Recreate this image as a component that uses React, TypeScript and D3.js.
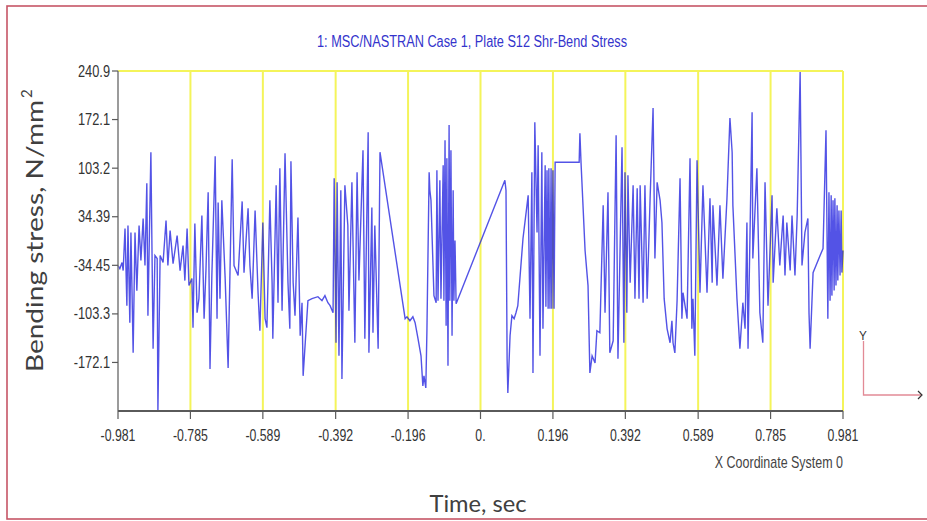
import React from 'react';
import * as d3 from 'd3';

const chartTitle = '1: MSC/NASTRAN Case 1, Plate S12 Shr-Bend Stress';
const xAxisTitle = 'Time, sec';
const yAxisTitle = 'Bending stress, N/mm';
const yAxisTitleSup = '2';
const coordLabel = 'X Coordinate System 0';

const xTickValues = [-0.981, -0.785, -0.589, -0.392, -0.196, 0, 0.196, 0.392, 0.589, 0.785, 0.981];
const xTickLabels = ['-0.981', '-0.785', '-0.589', '-0.392', '-0.196', '0.', '0.196', '0.392', '0.589', '0.785', '0.981'];
const yTickValues = [240.9, 172.1, 103.2, 34.39, -34.45, -103.3, -172.1];
const yTickLabels = ['240.9', '172.1', '103.2', '34.39', '-34.45', '-103.3', '-172.1'];
const xDomain = [-0.981, 0.981];
const yDomain = [-240.9, 240.9];

// [time (s), bending stress (N/mm^2)]
const samplesEarly: [number, number][] = [
  [-0.981,-34.8],[-0.976,-39.1],[-0.970,-30.5],[-0.967,-41.9],[-0.962,17.8],[-0.957,-91.7],[-0.954,22.0],[-0.949,-115.8],[-0.946,12.1],[-0.940,-158.5],
  [-0.935,12.1],[-0.930,-70.3],[-0.924,22.0],[-0.919,-27.7],[-0.913,32.0],[-0.908,-34.8],[-0.903,81.7],[-0.900,-105.9],[-0.892,125.8],[-0.886,-152.8],
  [-0.881,-20.6],[-0.875,-24.9],[-0.873,-240.9],[-0.867,-20.6],[-0.859,-30.5],[-0.851,29.1],[-0.846,-34.8],[-0.840,14.9],[-0.832,-32.0],[-0.821,7.8],
  [-0.813,-41.9],[-0.805,-6.4],[-0.800,-56.1],[-0.794,17.8],[-0.789,-63.2],[-0.781,-53.3],[-0.778,-122.9],[-0.773,24.9],[-0.767,-101.6],[-0.762,-81.7],
  [-0.754,36.2],[-0.748,-110.1],[-0.743,-41.9],[-0.737,68.9],[-0.732,-181.2],[-0.727,-49.0],[-0.718,120.1],[-0.713,-110.1],[-0.710,54.7],[-0.705,-81.7],
  [-0.700,57.6],[-0.691,-53.3],[-0.683,-179.8],[-0.672,115.8],[-0.667,-34.8],[-0.656,-49.0],[-0.645,56.1],[-0.640,-44.8],[-0.629,46.2],[-0.624,-34.8],
  [-0.618,-81.7],[-0.610,43.3],[-0.602,-73.2],[-0.597,-127.2],[-0.589,26.3],[-0.583,-110.1],[-0.578,-122.9],[-0.570,57.6],[-0.564,-59.0],[-0.562,-138.6],
  [-0.553,78.9],[-0.548,-87.4],[-0.543,103.0],[-0.537,-98.8],[-0.529,124.4],[-0.521,-59.0],[-0.516,-124.4],[-0.513,113.0],[-0.507,-59.0],[-0.502,-105.9],
  [-0.494,33.4],[-0.488,-134.3],[-0.483,-87.4],[-0.480,-191.1],
];

const samplesPlateau: [number, number][] = [
  [-0.467,-84.6],[-0.456,-81.7],[-0.440,-78.9],[-0.429,-84.6],[-0.421,-77.4],[-0.413,-87.4],[-0.407,-91.7],
  [-0.399,-101.6],[-0.396,88.8],[-0.391,-144.2],[-0.388,83.2],[-0.383,-162.7],[-0.378,71.8],[-0.375,-195.4],[-0.367,78.9],
  [-0.359,22.0],[-0.356,-98.8],[-0.348,83.2],[-0.340,-144.2],[-0.334,97.3],[-0.329,-56.1],
];

const samplesMiddle: [number, number][] = [
  [-0.318,128.6],[-0.313,-138.6],[-0.304,154.2],[-0.302,-158.5],[-0.294,47.6],[-0.291,-130.0],[-0.286,22.0],[-0.277,-152.8],[-0.272,125.8],
  [-0.204,-110.1],[-0.199,-107.3],[-0.191,-113.0],[-0.183,-107.3],[-0.177,-115.8],[-0.169,-138.6],[-0.161,-162.7],[-0.156,-205.4],[-0.153,-191.1],
  [-0.148,-208.2],[-0.145,-127.2],[-0.139,97.3],[-0.137,71.8],[-0.134,57.6],[-0.126,-77.4],[-0.120,-87.4],[-0.118,100.2],[-0.115,-84.6],
  [-0.110,86.0],[-0.107,-81.7],[-0.101,107.3],[-0.099,-84.6],[-0.096,142.8],[-0.093,-120.1],[-0.091,117.3],[-0.088,-176.9],[-0.085,164.2],
  [-0.083,-84.6],[-0.080,128.6],[-0.077,-134.3],[-0.074,71.8],[-0.072,-84.6],[-0.069,0.7],[-0.066,-88.8],
  [0.066,86.0],[0.069,71.8],[0.072,-167.0],[0.074,-215.3],[0.080,-134.3],[0.085,-105.9],[0.091,-110.1],[0.096,-101.6],[0.101,-91.7],
  [0.115,3.6],[0.129,64.7],[0.134,-110.1],[0.139,97.3],[0.142,-186.9],[0.147,168.4],[0.153,12.1],[0.156,135.7],[0.161,-162.7],
  [0.166,125.8],[0.169,-124.4],[0.175,107.3],[0.177,-93.1],[0.180,100.2],[0.183,-95.9],[0.185,103.0],[0.188,-95.9],[0.191,103.0],
  [0.193,-95.9],[0.196,100.2],[0.199,-95.9],[0.202,111.6],
  [0.267,111.6],[0.269,152.8],[0.272,111.6],[0.283,-13.5],[0.291,-63.2],[0.296,-186.9],[0.302,-162.7],[0.310,-172.7],[0.315,-127.2],[0.323,-130.0],
];

const samplesLate: [number, number][] = [
  [0.332,50.5],[0.337,-101.6],[0.345,68.9],[0.350,-158.5],[0.359,-141.4],[0.367,149.9],[0.372,-167.0],[0.383,132.9],[0.388,-144.2],[0.391,97.3],
  [0.396,-101.6],[0.399,93.1],[0.405,-59.0],[0.413,78.9],[0.418,-81.7],[0.424,74.6],[0.429,-81.7],[0.432,78.9],[0.440,-87.4],[0.445,78.9],
  [0.451,-81.7],[0.459,60.4],[0.467,188.3],[0.472,-24.9],[0.478,83.2],[0.486,57.6],[0.491,26.3],[0.497,-81.7],[0.505,-124.4],[0.513,-144.2],
  [0.518,-113.0],[0.521,-144.2],[0.526,-158.5],[0.532,-84.6],[0.540,88.8],[0.545,-110.1],[0.548,-73.2],[0.559,-110.1],[0.567,117.3],[0.572,-124.4],
  [0.575,-81.7],[0.580,-162.7],[0.586,114.4],[0.594,-73.2],[0.602,78.9],[0.613,-73.2],[0.621,60.4],[0.627,-59.0],[0.629,50.5],[0.640,-63.2],
  [0.648,50.5],[0.656,-53.3],[0.667,60.4],[0.675,174.1],[0.681,125.8],[0.683,50.5],[0.694,-81.7],[0.702,-152.8],[0.710,-87.4],[0.716,-124.4],
  [0.721,26.3],[0.724,-152.8],[0.735,182.6],[0.737,-24.9],[0.748,103.0],[0.756,-101.6],[0.764,-144.2],[0.770,83.2],[0.778,-91.7],[0.789,64.7],
  [0.792,-59.0],[0.802,46.2],[0.810,-34.8],[0.819,36.2],[0.824,-49.0],[0.829,26.3],[0.838,-41.9],[0.843,36.2],[0.851,-49.0],[0.857,36.2],
  [0.865,239.5],[0.870,-34.8],[0.878,12.1],[0.886,32.0],[0.889,-101.6],[0.892,-152.8],[0.900,-44.8],[0.919,-20.6],[0.927,-10.7],[0.935,157.0],
  [0.940,-110.1],[0.943,68.9],[0.946,-84.6],[0.949,64.7],[0.951,-77.4],[0.954,57.6],[0.957,-70.3],[0.959,60.4],[0.962,-63.2],[0.965,50.5],
  [0.967,-56.1],[0.970,43.3],[0.973,-49.0],[0.976,43.3],[0.978,-44.8],[0.981,-13.5],
];

const SANS = "'Liberation Sans',Arial,sans-serif";
const HUMAN = "Lato,'Open Sans','Noto Sans',sans-serif";

function NarrowText(props: { x: number; y: number; anchor: string; size: number; fill: string; sx?: number; children: React.ReactNode }) {
  const sx = props.sx ?? 0.78;
  return (
    <g transform={`translate(${props.x},${props.y}) scale(${sx},1)`}>
      <text x={0} y={0} textAnchor={props.anchor as any} fontFamily={SANS} fontSize={props.size} fill={props.fill}>{props.children}</text>
    </g>
  );
}

export default function App() {
  const W = 927;
  const H = 521;
  const plot = { left: 118, right: 843, top: 71, bottom: 411 };
  const x = d3.scaleLinear().domain(xDomain).range([plot.left, plot.right]);
  const y = d3.scaleLinear().domain(yDomain).range([plot.bottom, plot.top]);
  const samples = [...samplesEarly, ...samplesPlateau, ...samplesMiddle, ...samplesLate];
  const line = d3.line<[number, number]>().x((d) => x(d[0])).y((d) => y(d[1]));
  const path = line(samples) || '';

  const yellow = '#f4f45a';
  const axisGrey = '#5a5a5a';

  return (
    <svg width={W} height={H} style={{ position: 'absolute', left: 0, top: 0, display: 'block', background: '#fff' }}>
      <rect x={7} y={6} width={940} height={513} fill="#fff" stroke="#c65566" strokeWidth={1.6} />

      <text x={472} y={47} textAnchor="middle" fontFamily={SANS} fontSize={16} fill="#3434cc"
        textLength={310} lengthAdjust="spacingAndGlyphs">{chartTitle}</text>

      {/* yellow frame and grid */}
      <line x1={plot.left} x2={plot.right} y1={plot.top} y2={plot.top} stroke={yellow} strokeWidth={2} />
      {xTickValues.slice(1).map((v, i) => (
        <line key={'g' + i} x1={x(v)} x2={x(v)} y1={plot.top} y2={plot.bottom} stroke={yellow} strokeWidth={2} />
      ))}

      {/* data */}
      <path d={path} fill="none" stroke="#1010dd" strokeOpacity={0.72} strokeWidth={1.4} />

      {/* axes */}
      <line x1={plot.left} x2={plot.left} y1={plot.top} y2={plot.bottom} stroke="#7a7a7a" strokeWidth={1.5} />
      <line x1={plot.left} x2={plot.right} y1={plot.bottom} y2={plot.bottom} stroke={axisGrey} strokeWidth={2} />
      {yTickValues.map((v, i) => (
        <g key={'yt' + i}>
          <line x1={plot.left - 6} x2={plot.left} y1={y(v)} y2={y(v)} stroke={axisGrey} strokeWidth={1.2} />
          <NarrowText x={plot.left - 8} y={y(v) + 5.5} anchor="end" size={16} fill="#333" sx={0.8}>{yTickLabels[i]}</NarrowText>
        </g>
      ))}
      {xTickValues.map((v, i) => (
        <g key={'xt' + i}>
          <line x1={x(v)} x2={x(v)} y1={plot.bottom} y2={plot.bottom + 8} stroke={axisGrey} strokeWidth={1.2} />
          <NarrowText x={x(v)} y={441} anchor="middle" size={16} fill="#333" sx={0.77}>{xTickLabels[i]}</NarrowText>
        </g>
      ))}
      <NarrowText x={843} y={468} anchor="end" size={16} fill="#444" sx={0.78}>{coordLabel}</NarrowText>

      {/* coordinate system glyph */}
      <polyline points="863.5,341 863.5,395 921,395" fill="none" stroke="#e28a96" strokeWidth={1.3} />
      <NarrowText x={863} y={340} anchor="middle" size={13} fill="#333" sx={0.9}>Y</NarrowText>
      <polyline points="918,391 922,395 918,399" fill="none" stroke="#333" strokeWidth={1.2} />

      {/* axis titles */}
      <text x={478} y={512} textAnchor="middle" fontFamily={HUMAN} fontSize={24} fill="#404040"
        textLength={97} lengthAdjust="spacingAndGlyphs">{xAxisTitle}</text>
      <g transform="translate(43,0) rotate(-90)">
        <text x={-372} y={0} textAnchor="start" fontFamily={HUMAN} fontSize={24} fill="#404040"
          textLength={272} lengthAdjust="spacingAndGlyphs">{yAxisTitle}</text>
        <text x={-98} y={-11} textAnchor="start" fontFamily={HUMAN} fontSize={15} fill="#404040">{yAxisTitleSup}</text>
      </g>
    </svg>
  );
}
